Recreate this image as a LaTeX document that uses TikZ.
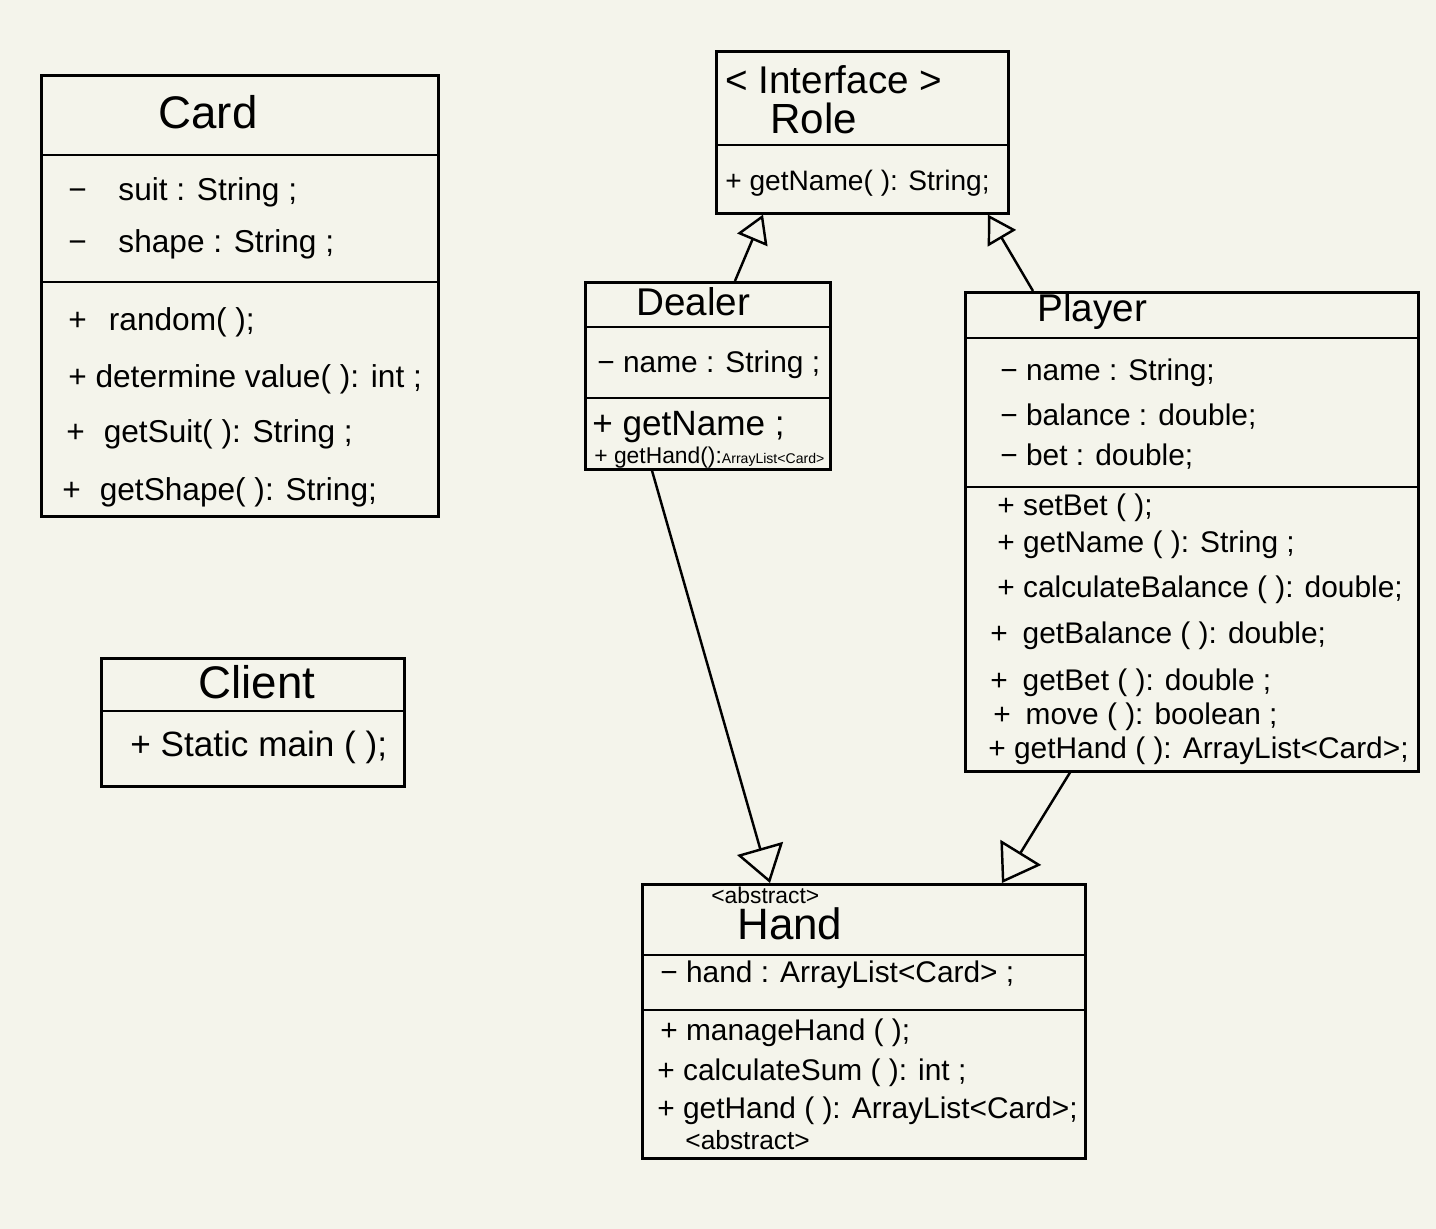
\documentclass[tikz,border=0pt]{standalone}
\usepackage{fontspec}
\setmainfont{Liberation Sans}
\usetikzlibrary{arrows.meta}
\definecolor{carta}{RGB}{244,244,235}
\tikzset{
class node/.style={draw,line width=1.5pt,anchor=north west,inner sep=0pt},
divisore/.style={line width=1.5pt},
title node/.style={inner sep=0pt,font=\fontsize{#1}{#1}\selectfont},
title node/.default=24,
member/.style={anchor=west,inner sep=0pt,yshift=-0.1cm,text height=1.6ex,text depth=0.4ex,font=\fontsize{#1}{#1}\selectfont},
member/.default=17,
freccia/.style={-{Triangle[open,length=0.55cm,width=0.65cm]},line width=1.4pt},
freccia grande/.style={-{Triangle[open,length=0.72cm,width=0.95cm]}}}

\begin{document}
\begin{tikzpicture}[x=0.02cm,y=-0.02cm]

\fill[carta] (0,0) rectangle (1436,1229);

% Card
\node[class node,minimum width=7.94cm,minimum height=8.82cm] (card) at (40,74) {};
\node[title node=26] (card title) at (208,112) {Card};
\draw[divisore] (card.west |- 0,155) -- (card.east |- 0,155);
\draw[divisore] (card.west |- 0,282) -- (card.east |- 0,282);
\node[member=18] (card a1) at (68,190) {−\hspace{1em}suit : String ;};
\node[member=18] (card a2) at (68,242) {−\hspace{1em}shape : String ;};
\node[member=18] (card m1) at (68,320) {+\hspace{0.7em}random( );};
\node[member=18] (card m2) at (68,377) {+ determine value( ): int ;};
\node[member=18] (card m3) at (66,432) {+\hspace{0.6em}getSuit( ): String ;};
\node[member=18] (card m4) at (62,490) {+\hspace{0.6em}getShape( ): String;};

% Client
\node[class node,minimum width=6.06cm,minimum height=2.56cm] (client) at (100,657) {};
\node[title node=26] (client title) at (257,682) {Client};
\draw[divisore] (client.west |- 0,711) -- (client.east |- 0,711);
\node[member=20] (client m1) at (130,746) {+ Static main ( );};

% Role
\node[class node,minimum width=5.84cm,minimum height=3.24cm] (role) at (715,50) {};
\node[title node=22,anchor=west] (role stereo) at (725,80) {< Interface >};
\node[title node=24,anchor=west] (role title) at (770,118) {Role};
\draw[divisore] (role.west |- 0,145) -- (role.east |- 0,145);
\node[member=16] (role m1) at (725,180) {+ getName( ): String;};

% Dealer
\node[class node,minimum width=4.9cm,minimum height=3.74cm] (dealer) at (584,281) {};
\node[title node=22,anchor=west] (dealer title) at (636,302) {Dealer};
\draw[divisore] (dealer.west |- 0,327) -- (dealer.east |- 0,327);
\draw[divisore] (dealer.west |- 0,398) -- (dealer.east |- 0,398);
\node[member] (dealer a1) at (597,362) {− name : String ;};
\node[member=20] (dealer m1) at (592,425) {+ getName ;};
\node[member=13] (dealer m2) at (594,453) {+ getHand():{\fontsize{8}{9}\selectfont ArrayList<Card>}};

% Player
\node[class node,minimum width=9.06cm,minimum height=9.58cm] (player) at (964,291) {};
\node[title node=22,anchor=west] (player title) at (1037,312) {Player};
\draw[divisore] (player.west |- 0,338) -- (player.east |- 0,338);
\draw[divisore] (player.west |- 0,487) -- (player.east |- 0,487);
\node[member] (player a1) at (1000,370) {− name : String;};
\node[member] (player a2) at (1000,415) {− balance : double;};
\node[member] (player a3) at (1000,455) {− bet : double;};
\node[member] (player m1) at (997,505) {+ setBet ( );};
\node[member] (player m2) at (997,542) {+ getName ( ): String ;};
\node[member] (player m3) at (997,587) {+ calculateBalance ( ): double;};
\node[member] (player m4) at (990,633) {+\hspace{0.5em}getBalance ( ): double;};
\node[member] (player m5) at (990,680) {+\hspace{0.5em}getBet ( ): double ;};
\node[member] (player m6) at (993,714) {+\hspace{0.5em}move ( ): boolean ;};
\node[member] (player m7) at (988,748) {+ getHand ( ): ArrayList<Card>;};

% Hand
\node[class node,minimum width=8.86cm,minimum height=5.48cm] (hand) at (641,883) {};
\node[title node=13,anchor=west] (hand stereo) at (711,895) {<abstract>};
\node[title node=25,anchor=west] (hand title) at (737,924) {Hand};
\draw[divisore] (hand.west |- 0,955) -- (hand.east |- 0,955);
\draw[divisore] (hand.west |- 0,1010) -- (hand.east |- 0,1010);
\node[member] (hand a1) at (660,972) {− hand : ArrayList<Card> ;};
\node[member] (hand m1) at (660,1030) {+ manageHand ( );};
\node[member] (hand m2) at (657,1070) {+ calculateSum ( ): int ;};
\node[member] (hand m3) at (657,1108) {+ getHand ( ): ArrayList<Card>;};
\node[member=15] (hand m4) at (685,1139) {<abstract>};

% generalizzazioni
\draw[freccia] ([xshift=3.02cm]dealer.north west) -- ([xshift=0.96cm]role.south west);
\draw[freccia] ([xshift=1.38cm]player.north west) -- ([xshift=5.46cm]role.south west);
\draw[freccia,freccia grande] ([xshift=1.36cm]dealer.south west) -- ([xshift=2.58cm]hand.north west);
\draw[freccia,freccia grande] ([xshift=2.12cm]player.south west) -- ([xshift=7.22cm]hand.north west);

\end{tikzpicture}
\end{document}
